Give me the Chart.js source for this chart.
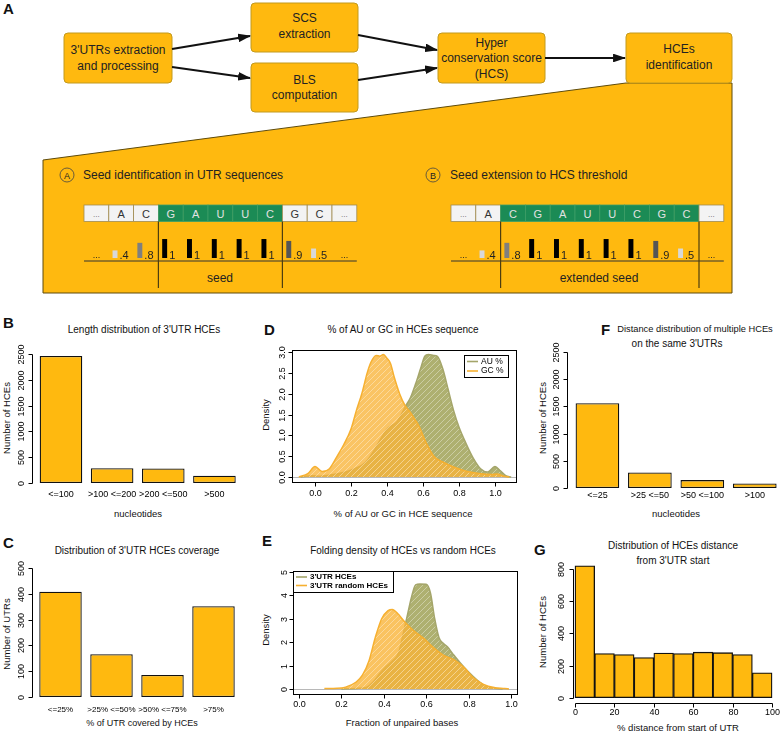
<!DOCTYPE html>
<html>
<head>
<meta charset="utf-8">
<script src="https://cdn.jsdelivr.net/npm/chart.js@4.4.0/dist/chart.umd.min.js"></script>
<style>
  html, body { margin: 0; padding: 0; background: #fff; overflow: hidden; }
  #page { position: relative; width: 781px; height: 733px; font-family: "Liberation Sans", Arial, sans-serif; }
  #page svg, #page canvas { position: absolute; left: 0; top: 0; }
</style>
</head>
<body>
<div id="page">
<svg id="art" width="781" height="733" font-family="Liberation Sans, Arial, sans-serif">
  <defs>
    <marker id="arr" viewBox="0 0 12 8" refX="11" refY="4" markerWidth="6.5" markerHeight="4.4" orient="auto">
      <path d="M0,0 L12,4 L0,8 z" fill="#111"/>
    </marker>
  </defs>
  <polygon points="43,160 626,83 732,83 732,293 43,293" fill="#FFB90F" stroke="#5E4B0C" stroke-width="1"/>
  <g fill="#FFB90F" stroke="#C29A1E" stroke-width="1">
    <rect x="64" y="33" width="108" height="50" rx="4"/>
    <rect x="251" y="3" width="107" height="49" rx="4"/>
    <rect x="251" y="63" width="107" height="49" rx="4"/>
    <rect x="438" y="33" width="107" height="50" rx="4"/>
    <rect x="626" y="33" width="106" height="50" rx="4"/>
  </g>
  <g stroke="#111" stroke-width="2" marker-end="url(#arr)">
    <line x1="172" y1="49" x2="250" y2="36"/>
    <line x1="172" y1="67" x2="250" y2="78"/>
    <line x1="358" y1="35" x2="437" y2="50"/>
    <line x1="358" y1="80" x2="437" y2="68"/>
    <line x1="545" y1="58" x2="625" y2="58"/>
  </g>
  <g font-size="12" fill="#222" text-anchor="middle" dominant-baseline="central">
    <text x="118" y="50">3'UTRs extraction</text>
    <text x="118" y="66">and processing</text>
    <text x="304.5" y="18">SCS</text>
    <text x="304.5" y="34">extraction</text>
    <text x="304.5" y="80">BLS</text>
    <text x="304.5" y="95">computation</text>
    <text x="491.5" y="43">Hyper</text>
    <text x="491.5" y="58">conservation score</text>
    <text x="491.5" y="74">(HCS)</text>
    <text x="679" y="49">HCEs</text>
    <text x="679" y="65">identification</text>
  </g>
  <g fill="none" stroke="#444" stroke-width="0.8">
    <circle cx="67" cy="175" r="7"/>
    <circle cx="433" cy="175" r="7"/>
  </g>
  <g fill="#222" dominant-baseline="central">
    <text x="67" y="175.5" font-size="9" text-anchor="middle">A</text>
    <text x="433" y="175.5" font-size="9" text-anchor="middle">B</text>
    <text x="83" y="175" font-size="12">Seed identification in UTR sequences</text>
    <text x="450" y="175" font-size="12">Seed extension to HCS threshold</text>
    <text x="220" y="278" font-size="12" text-anchor="middle">seed</text>
    <text x="599" y="278" font-size="12" text-anchor="middle">extended seed</text>
  </g>
  <g id="seqs"></g>

  <!-- panel letters -->
  <g font-size="15" font-weight="bold" fill="#111">
    <text x="3" y="14">A</text>
    <text x="3" y="328">B</text>
    <text x="264" y="335">D</text>
    <text x="601" y="335">F</text>
    <text x="3" y="548">C</text>
    <text x="262" y="546">E</text>
    <text x="534" y="555">G</text>
  </g>
  <!-- titles -->
  <g font-size="10" fill="#111" text-anchor="middle" dominant-baseline="central">
    <text x="144" y="329">Length distribution of 3'UTR HCEs</text>
    <text x="403" y="329">% of AU or GC in HCEs sequence</text>
    <text x="695" y="329" font-size="9.3">Distance distribution of multiple HCEs</text>
    <text x="677" y="343">on the same 3'UTRs</text>
    <text x="137" y="550">Distribution of 3'UTR HCEs coverage</text>
    <text x="403" y="550">Folding density of HCEs vs random HCEs</text>
    <text x="673" y="545">Distribution of HCEs distance</text>
    <text x="673" y="560">from 3'UTR start</text>
  </g>
  <!-- axis titles -->
  <g font-size="9.5" fill="#111" text-anchor="middle" dominant-baseline="central">
    <text x="138" y="513">nucleotides</text>
    <text x="403" y="513">% of AU or GC in HCE sequence</text>
    <text x="676" y="513">nucleotides</text>
    <text x="142" y="723" font-size="9">% of UTR covered by HCEs</text>
    <text x="402" y="722">Fraction of unpaired bases</text>
    <text x="678" y="727">% distance from start of UTR</text>
    <text transform="translate(6,418) rotate(-90)">Number of HCEs</text>
    <text transform="translate(265,415) rotate(-90)">Density</text>
    <text transform="translate(542,418) rotate(-90)">Number of HCEs</text>
    <text transform="translate(6,634) rotate(-90)">Number of UTRs</text>
    <text transform="translate(265,630) rotate(-90)">Density</text>
    <text transform="translate(542,632) rotate(-90)">Number of HCEs</text>
  </g>
</svg>
<canvas id="chartB" width="781" height="733"></canvas>
<canvas id="chartC" width="781" height="733"></canvas>
<canvas id="chartD" width="781" height="733"></canvas>
<canvas id="chartE" width="781" height="733"></canvas>
<canvas id="chartF" width="781" height="733"></canvas>
<canvas id="chartG" width="781" height="733"></canvas>
<canvas id="scoreL" width="273" height="24" style="left:84px;top:236px"></canvas>
<canvas id="scoreR" width="273" height="24" style="left:451px;top:236px"></canvas>
</div>

<script>
// ---- data ----
// A: seed sequences and conservation scores
const seqBases = ['...', 'A', 'C', 'G', 'A', 'U', 'U', 'C', 'G', 'C', '...'];
const seedScores = [null, 0.4, 0.8, 1, 1, 1, 1, 1, 0.9, 0.5, null];
const scoreText = ['...', '.4', '.8', '1', '1', '1', '1', '1', '.9', '.5', '...'];

// B: length distribution
const lenLabels = ['<=100', '>100 <=200', '>200 <=500', '>500'];
const lenCounts = [2460, 285, 280, 140];
const countTicks = [0, 500, 1000, 1500, 2000, 2500];

// C: coverage
const covLabels = ['<=25%', '>25% <=50%', '>50% <=75%', '>75%'];
const covCounts = [408, 166, 85, 352];
const utrTicks = [0, 100, 200, 300, 400, 500];

// D: AU / GC content density
const auX = [-0.08, -0.02, 0.03, 0.1, 0.17, 0.22, 0.28, 0.33, 0.37, 0.4, 0.42, 0.45, 0.48, 0.5, 0.53, 0.56, 0.59, 0.61, 0.63, 0.66, 0.68, 0.71, 0.74, 0.77, 0.8, 0.84, 0.88, 0.92, 0.96, 1.0, 1.03, 1.06, 1.09];
const auY = [0, 0.03, 0.02, 0.06, 0.12, 0.2, 0.35, 0.65, 0.95, 1.15, 1.22, 1.3, 1.5, 1.68, 1.9, 2.25, 2.65, 2.9, 2.94, 2.92, 2.9, 2.6, 2.1, 1.6, 1.2, 0.8, 0.45, 0.2, 0.12, 0.25, 0.15, 0.03, 0];
const gcX = [-0.09, -0.04, 0, 0.04, 0.08, 0.12, 0.16, 0.2, 0.23, 0.26, 0.29, 0.31, 0.34, 0.36, 0.38, 0.4, 0.42, 0.44, 0.47, 0.5, 0.53, 0.56, 0.58, 0.6, 0.62, 0.66, 0.71, 0.77, 0.84, 0.92, 0.98, 1.01, 1.05, 1.08];
const gcY = [0, 0.08, 0.25, 0.13, 0.2, 0.48, 0.78, 1.15, 1.6, 2.0, 2.5, 2.75, 2.92, 2.9, 2.94, 2.85, 2.72, 2.4, 2.0, 1.72, 1.55, 1.35, 1.2, 1.0, 0.8, 0.5, 0.36, 0.24, 0.14, 0.08, 0.06, 0.07, 0.02, 0];
const fracTicks = [0, 0.2, 0.4, 0.6, 0.8, 1];
const densTicksD = [0, 0.5, 1, 1.5, 2, 2.5, 3];

// E: folding density
const hceX = [0.2, 0.28, 0.32, 0.35, 0.38, 0.41, 0.44, 0.47, 0.49, 0.51, 0.53, 0.55, 0.57, 0.6, 0.62, 0.64, 0.66, 0.68, 0.7, 0.73, 0.76, 0.8, 0.84, 0.88, 0.92, 0.96];
const hceY = [0, 0.03, 0.08, 0.3, 0.65, 0.95, 1.2, 1.55, 2.3, 3.1, 3.9, 4.45, 4.48, 4.47, 4.1, 3.0, 2.2, 1.95, 1.8, 1.45, 1.12, 0.72, 0.38, 0.12, 0.03, 0];
const rndX = [0.12, 0.18, 0.22, 0.27, 0.3, 0.33, 0.36, 0.39, 0.42, 0.44, 0.47, 0.5, 0.54, 0.59, 0.63, 0.68, 0.73, 0.78, 0.82, 0.87, 0.92, 0.97, 0.99];
const rndY = [0.02, 0.03, 0.08, 0.3, 0.6, 1.2, 2.2, 3.0, 3.35, 3.4, 3.18, 2.85, 2.5, 2.15, 1.8, 1.45, 1.25, 0.9, 0.5, 0.2, 0.06, 0.02, 0];
const densTicksE = [0, 1, 2, 3, 4, 5];

// F: distance between HCEs
const distLabels = ['<=25', '>25 <=50', '>50 <=100', '>100'];
const distCounts = [1560, 285, 145, 85];

// G: distance from UTR start
const binStarts = [0, 10, 20, 30, 40, 50, 60, 70, 80, 90];
const binCounts = [820, 275, 268, 250, 278, 275, 283, 280, 268, 155];
const pctTicks = [0, 20, 40, 60, 80, 100];
const histTicks = [0, 200, 400, 600, 800];

// ---- style ----
const W = 781, H = 733;
const YELLOW = '#FFB90F';
const OLIVE = '#A4A56A';
const ORANGE = '#F6B030';
const FONT = '"Liberation Sans", Arial, sans-serif';

// sequence boxes for the two seed diagrams
function drawSeq(x0, green, vlines) {
  const g = document.getElementById('seqs');
  const w = 24.8;
  let s = '';
  seqBases.forEach((b, i) => {
    const x = x0 + i * w;
    const isG = i >= green[0] && i <= green[1];
    s += `<rect x="${x}" y="205" width="${w}" height="16.5" fill="${isG ? '#1B8B55' : '#F3F3F3'}" stroke="${isG ? '#3E9E68' : '#A08C52'}" stroke-width="0.8"/>`;
    if (b === '...') {
      s += `<text x="${x + w / 2}" y="217" font-size="8" fill="#666" text-anchor="middle">...</text>`;
    } else {
      s += `<text x="${x + w / 2}" y="213.5" font-size="11" fill="${isG ? '#E2E2E2' : '#333'}" text-anchor="middle" dominant-baseline="central">${b}</text>`;
    }
  });
  s += `<line x1="${x0}" y1="261" x2="${x0 + 11 * w}" y2="261" stroke="#333" stroke-width="1"/>`;
  vlines.forEach((i) => {
    const x = x0 + i * w;
    s += `<line x1="${x}" y1="221.5" x2="${x}" y2="288" stroke="#4E3E10" stroke-width="1.2"/>`;
  });
  g.insertAdjacentHTML('beforeend', s);
}
drawSeq(84, [3, 7], [3, 8]);
drawSeq(451, [2, 9], [2, 10]);

function scoreShade(v) {
  if (v === null) return 'rgba(0,0,0,0)';
  if (v >= 1) return '#000';
  if (v >= 0.9) return '#555';
  if (v >= 0.8) return '#7F7F7F';
  return '#D8D8D8';
}

const scoreLabels = {
  id: 'scoreLabels',
  afterDatasetsDraw(chart) {
    const {ctx, chartArea: a, scales: {x}} = chart;
    const bars = chart.getDatasetMeta(0).data;
    ctx.save();
    ctx.fillStyle = '#222';
    ctx.textBaseline = 'alphabetic';
    scoreText.forEach((t, i) => {
      if (seedScores[i] === null) {
        ctx.textAlign = 'center';
        ctx.font = '9px ' + FONT;
        ctx.fillText(t, x.getPixelForValue(i), a.bottom);
      } else {
        ctx.textAlign = 'left';
        ctx.font = '11px ' + FONT;
        ctx.fillText(t, bars[i].x + bars[i].width / 2 + 2, a.bottom + 0.5);
      }
    });
    ctx.restore();
  },
};

function scoreChart(id) {
  new Chart(document.getElementById(id), {
    type: 'bar',
    data: {
      labels: seqBases,
      datasets: [
        {data: seedScores, backgroundColor: seedScores.map(scoreShade), barPercentage: 0.4, categoryPercentage: 1},
        {data: [], barPercentage: 0.4, categoryPercentage: 1},
      ],
    },
    plugins: [scoreLabels],
    options: {
      responsive: false,
      animation: false,
      events: [],
      layout: {padding: {left: 0, right: 0, top: 0, bottom: 2}},
      plugins: {legend: {display: false}, tooltip: {enabled: false}},
      scales: {x: {display: false}, y: {display: false, min: 0, max: 1.16}},
    },
  });
}
scoreChart('scoreL');
scoreChart('scoreR');

// R-like axes: lines only between first and last tick, labels turned along the y axis
const rAxes = {
  id: 'rAxes',
  beforeDatasetsDraw(chart, args, o) {
    if (!o.zeroLine) return;
    const {ctx, chartArea: a, scales: {y}} = chart;
    const py = Math.round(y.getPixelForValue(0)) + 0.5;
    ctx.save();
    ctx.strokeStyle = '#B8B8B8';
    ctx.lineWidth = 1;
    ctx.beginPath();
    ctx.moveTo(a.left, py);
    ctx.lineTo(a.right, py);
    ctx.stroke();
    ctx.restore();
  },
  afterDraw(chart, args, o) {
    const {ctx, chartArea: a, scales: {x, y}} = chart;
    const px = (v) => Math.round(v) + 0.5;
    ctx.save();
    ctx.strokeStyle = '#000';
    ctx.fillStyle = '#000';
    ctx.lineWidth = 1;
    ctx.font = '9px ' + FONT;
    ctx.textAlign = 'center';
    ctx.textBaseline = 'middle';

    if (o.frame) {
      ctx.strokeRect(px(a.left), px(a.top), Math.round(a.right - a.left), Math.round(a.bottom - a.top));
    }

    // y axis
    const ax = px(a.left - o.yGap);
    const ys = o.yTicks.map((v) => px(y.getPixelForValue(v)));
    ctx.beginPath();
    ctx.moveTo(ax, ys[0]);
    ctx.lineTo(ax, ys[ys.length - 1]);
    ys.forEach((py) => {
      ctx.moveTo(ax, py);
      ctx.lineTo(ax - 4, py);
    });
    ctx.stroke();
    o.yTicks.forEach((v, i) => {
      ctx.save();
      ctx.translate(ax - o.yLabelDx, ys[i]);
      ctx.rotate(-Math.PI / 2);
      ctx.fillText(v.toFixed(o.yDigits), 0, 0);
      ctx.restore();
    });

    // x axis
    if (o.xTicks) {
      const ay = px(a.bottom + o.xGap);
      const xs = o.xTicks.map((v) => px(x.getPixelForValue(v)));
      ctx.beginPath();
      ctx.moveTo(xs[0], ay);
      ctx.lineTo(xs[xs.length - 1], ay);
      xs.forEach((p) => {
        ctx.moveTo(p, ay);
        ctx.lineTo(p, ay + 4);
      });
      ctx.stroke();
      o.xTicks.forEach((v, i) => ctx.fillText(v.toFixed(o.xDigits), xs[i], ay + o.xLabelDy));
    } else {
      ctx.font = o.catFont + 'px ' + FONT;
      chart.data.labels.forEach((l, i) => ctx.fillText(l, x.getPixelForValue(i), a.bottom + o.catDy));
    }

    // legend box
    if (o.legend) {
      const L = o.legend;
      ctx.fillStyle = '#fff';
      ctx.fillRect(L.x, L.y, L.w, L.h);
      ctx.strokeStyle = '#000';
      ctx.strokeRect(px(L.x), px(L.y), L.w, L.h);
      ctx.font = (L.bold ? 'bold ' : '') + L.size + 'px ' + FONT;
      ctx.textAlign = 'left';
      chart.data.datasets.forEach((ds, i) => {
        const py = L.y + L.first + i * L.row;
        ctx.strokeStyle = ds.borderColor;
        ctx.lineWidth = 1.6;
        ctx.beginPath();
        ctx.moveTo(L.x + 3, py);
        ctx.lineTo(L.x + 3 + L.line, py);
        ctx.stroke();
        ctx.fillStyle = '#000';
        ctx.fillText(ds.label, L.x + 6 + L.line, py);
      });
    }
    ctx.restore();
  },
};

function pageChart(id, type, data, area, xScale, yRange, axes) {
  return new Chart(document.getElementById(id), {
    type: type,
    data: data,
    plugins: [rAxes],
    options: {
      responsive: false,
      animation: false,
      events: [],
      layout: {padding: {left: area[0], top: area[1], right: W - area[2], bottom: H - area[3]}},
      plugins: {legend: {display: false}, tooltip: {enabled: false}, rAxes: axes},
      scales: {
        x: Object.assign({display: false}, xScale),
        y: {display: false, min: yRange[0], max: yRange[1]},
      },
    },
  });
}

function barSet(values) {
  return {
    data: values,
    backgroundColor: YELLOW,
    borderColor: '#111',
    borderWidth: 1.3,
    borderSkipped: false,
    barPercentage: 0.833,
    categoryPercentage: 1,
  };
}

function hatch(id, color) {
  const c = document.createElement('canvas');
  c.width = 6;
  c.height = 6;
  const g = c.getContext('2d');
  g.fillStyle = color;
  g.fillRect(0, 0, 6, 6);
  g.strokeStyle = 'rgba(255,255,255,0.45)';
  g.lineWidth = 0.8;
  g.beginPath();
  g.moveTo(0, 6); g.lineTo(6, 0);
  g.moveTo(-1, 1); g.lineTo(1, -1);
  g.moveTo(5, 7); g.lineTo(7, 5);
  g.stroke();
  return document.getElementById(id).getContext('2d').createPattern(c, 'repeat');
}

function pts(xs, ys) {
  return xs.map((x, i) => ({x: x, y: ys[i]}));
}

function densSet(label, xs, ys, line, fill, order) {
  return {
    label: label,
    data: pts(xs, ys),
    borderColor: line,
    backgroundColor: fill,
    borderWidth: 1.5,
    fill: 'origin',
    pointRadius: 0,
    cubicInterpolationMode: 'monotone',
    order: order,
  };
}

// B
pageChart('chartB', 'bar', {labels: lenLabels, datasets: [barSet(lenCounts)]},
  [35.4, 354, 240, 483], {}, [0, 2500],
  {yTicks: countTicks, yGap: 3.4, yLabelDx: 11, yDigits: 0, catDy: 12, catFont: 9});

// C
pageChart('chartC', 'bar', {labels: covLabels, datasets: [barSet(covCounts)]},
  [35, 568, 239, 697], {}, [0, 500],
  {yTicks: utrTicks, yGap: 3, yLabelDx: 11, yDigits: 0, catDy: 13, catFont: 8});

// F
pageChart('chartF', 'bar', {labels: distLabels, datasets: [barSet(distCounts)]},
  [571.2, 352, 781.2, 488], {}, [0, 2500],
  {yTicks: countTicks, yGap: 4, yLabelDx: 11, yDigits: 0, catDy: 8, catFont: 9});

// G
pageChart('chartG', 'bar', {
  datasets: [Object.assign(barSet(binStarts.map((b, i) => ({x: b + 5, y: binCounts[i]}))), {barPercentage: 1, grouped: false})],
}, [573, 560.5, 776, 703], {type: 'linear', min: -1, max: 102, offset: false}, [-33, 853],
  {yTicks: histTicks, yGap: 0, yLabelDx: 11.5, yDigits: 0, xTicks: pctTicks, xGap: 0, xLabelDy: 9, xDigits: 0});

// D
pageChart('chartD', 'line', {
  datasets: [
    densSet('AU %', auX, auY, OLIVE, hatch('chartD', 'rgba(170,172,104,0.95)'), 1),
    densSet('GC %', gcX, gcY, ORANGE, hatch('chartD', 'rgba(249,180,56,0.78)'), 0),
  ],
}, [292, 350, 516, 482], {type: 'linear', min: -0.128, max: 1.117}, [-0.12, 3.05],
  {frame: true, zeroLine: true, yTicks: densTicksD, yGap: 0, yLabelDx: 9.5, yDigits: 1,
   xTicks: fracTicks, xGap: 0, xLabelDy: 11, xDigits: 1,
   legend: {x: 464, y: 355, w: 44, h: 22, first: 6.5, row: 9.5, line: 11, size: 8.5, bold: false}});

// E
pageChart('chartE', 'line', {
  datasets: [
    densSet("3'UTR HCEs", hceX, hceY, OLIVE, hatch('chartE', 'rgba(170,172,104,0.95)'), 1),
    densSet("3'UTR random HCEs", rndX, rndY, ORANGE, hatch('chartE', 'rgba(249,180,56,0.8)'), 0),
  ],
}, [293, 571, 517, 694], {type: 'linear', min: -0.028, max: 1.028}, [-0.214, 5.04],
  {frame: true, zeroLine: true, yTicks: densTicksE, yGap: 0, yLabelDx: 9, yDigits: 0,
   xTicks: fracTicks, xGap: 0, xLabelDy: 10, xDigits: 1,
   legend: {x: 293, y: 571, w: 100, h: 21, first: 6, row: 8.5, line: 11, size: 8, bold: true}});
</script>
</body>
</html>
